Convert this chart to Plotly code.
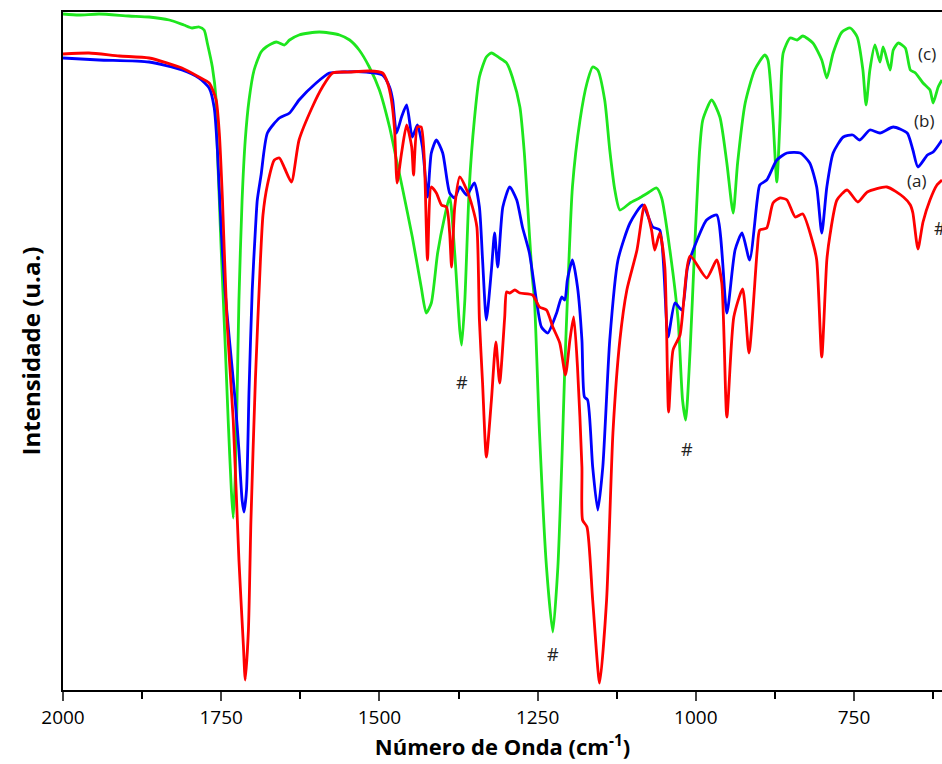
import plotly.graph_objects as go

# espectros FTIR (numero de onda em cm-1, intensidade em u.a.)
wn_a = [2000, 1959, 1911, 1864, 1812, 1785, 1769, 1758, 1753, 1748, 1741, 1731, 1722, 1715, 1712,
        1707, 1703, 1696, 1688, 1684, 1677, 1666, 1658, 1650, 1639, 1627, 1606, 1590, 1574, 1547,
        1516, 1495, 1487, 1481, 1476, 1472, 1465, 1457, 1449, 1446, 1440, 1434, 1429, 1424, 1418,
        1410, 1402, 1394, 1389, 1386, 1381, 1373, 1362, 1353, 1346, 1342, 1337, 1331, 1323, 1316,
        1310, 1302, 1299, 1294, 1286, 1278, 1258, 1247, 1236, 1226, 1215, 1206, 1199, 1193, 1187,
        1180, 1179, 1172, 1163, 1152, 1141, 1131, 1120, 1109, 1093, 1081, 1070, 1065, 1057, 1049,
        1043, 1036, 1025, 1009, 983, 967, 959, 951, 940, 926, 916, 903, 899, 888, 878,
        867, 856, 843, 831, 815, 809, 801, 793, 788, 777, 761, 744, 729, 698, 672,
        661, 657, 649, 641, 630, 619, 611]
int_a = [636, 637, 634, 632, 622, 613, 607, 590, 557, 490, 370, 270, 130, 45, 10,
         60, 170, 310, 430, 475, 505, 530, 532, 522, 508, 550, 583, 603, 617, 618,
         619, 617, 607, 590, 560, 507, 537, 565, 543, 515, 563, 563, 530, 430, 503,
         497, 485, 483, 457, 423, 483, 513, 500, 483, 463, 370, 307, 233, 290, 348,
         307, 373, 398, 397, 400, 397, 395, 383, 380, 363, 347, 315, 350, 373, 323,
         223, 170, 163, 90, 7, 90, 257, 350, 400, 440, 485, 460, 440, 457, 423,
         278, 340, 355, 434, 412, 430, 407, 273, 373, 401, 337, 440, 460, 462, 487,
         492, 490, 473, 476, 447, 430, 333, 430, 455, 490, 500, 488, 498, 503, 493,
         485, 477, 441, 468, 490, 505, 510]

wn_b = [2000, 1943, 1864, 1812, 1785, 1769, 1761, 1756, 1750, 1744, 1737, 1728, 1722, 1717, 1714,
        1710, 1706, 1701, 1696, 1693, 1687, 1677, 1658, 1642, 1627, 1600, 1579, 1559, 1521, 1495,
        1484, 1479, 1473, 1465, 1457, 1448, 1440, 1432, 1424, 1418, 1410, 1400, 1389, 1381, 1373,
        1362, 1350, 1342, 1337, 1331, 1323, 1318, 1313, 1305, 1294, 1283, 1274, 1263, 1252, 1244,
        1234, 1220, 1212, 1207, 1203, 1195, 1187, 1180, 1176, 1171, 1163, 1155, 1147, 1136, 1123,
        1104, 1084, 1068, 1057, 1044, 1033, 1022, 1013, 998, 983, 967, 951, 938, 927, 915,
        903, 899, 888, 872, 856, 835, 820, 809, 801, 793, 783, 767, 752, 741, 725,
        709, 688, 666, 657, 649, 634, 625, 611]
int_b = [632, 630, 628, 620, 612, 602, 582, 540, 460, 400, 350, 290, 240, 190, 178,
         200, 300, 400, 460, 490, 515, 557, 572, 577, 590, 607, 617, 618, 618, 615,
         603, 590, 557, 573, 585, 553, 565, 543, 493, 537, 550, 537, 497, 492, 503,
         495, 507, 483, 430, 370, 420, 457, 423, 483, 503, 490, 463, 437, 390, 363,
         357, 377, 393, 390, 410, 430, 403, 350, 293, 290, 223, 180, 223, 350, 430,
         467, 485, 463, 460, 353, 387, 380, 423, 450, 470, 475, 377, 440, 457, 430,
         490, 505, 510, 530, 537, 537, 527, 503, 457, 503, 537, 553, 555, 550, 560,
         557, 563, 557, 540, 523, 535, 538, 550]

wn_c = [2000, 1975, 1943, 1896, 1864, 1832, 1809, 1796, 1785, 1777, 1772, 1764, 1758, 1756, 1753,
        1750, 1744, 1739, 1734, 1731, 1728, 1725, 1722, 1717, 1712, 1706, 1698, 1687, 1679, 1663,
        1650, 1642, 1627, 1611, 1595, 1579, 1563, 1547, 1532, 1516, 1500, 1484, 1473, 1464, 1448,
        1434, 1426, 1418, 1408, 1397, 1389, 1381, 1373, 1370, 1365, 1358, 1350, 1342, 1331, 1323,
        1310, 1299, 1290, 1278, 1271, 1266, 1259, 1255, 1247, 1236, 1226, 1218, 1212, 1207, 1203,
        1195, 1183, 1172, 1163, 1155, 1144, 1136, 1128, 1120, 1104, 1089, 1076, 1062, 1054, 1041,
        1028, 1021, 1016, 1009, 1002, 994, 989, 975, 962, 951, 941, 934, 922, 907, 891,
        886, 878, 872, 867, 862, 851, 840, 831, 815, 801, 793, 783, 769, 756, 745,
        736, 731, 725, 717, 709, 704, 693, 688, 680, 669, 661, 653, 641, 630, 625,
        617, 611]
int_c = [676, 675, 676, 674, 673, 670, 665, 662, 663, 660, 647, 623, 590, 540, 490,
         440, 350, 270, 200, 172, 210, 290, 390, 490, 550, 590, 620, 638, 643, 648,
         645, 650, 655, 657, 658, 657, 655, 650, 640, 623, 600, 563, 530, 503, 453,
         403, 377, 387, 437, 473, 493, 437, 360, 345, 390, 503, 570, 613, 633, 637,
         632, 627, 613, 583, 537, 487, 417, 390, 257, 123, 58, 123, 223, 323, 390,
         503, 570, 607, 623, 620, 590, 540, 500, 480, 487, 492, 497, 502, 492, 440,
         370, 290, 270, 340, 440, 540, 570, 590, 573, 527, 477, 527, 587, 620, 635,
         630, 570, 508, 570, 637, 652, 650, 654, 647, 630, 612, 637, 658, 662, 653,
         620, 585, 620, 645, 628, 643, 620, 640, 647, 642, 620, 617, 607, 600, 587,
         603, 610]

labels = ["(a)", "(b)", "(c)"]
label_x = [651, 639, 634]
label_y = [510, 570, 637]
hash_x = [1370, 1226, 1014, 614]
hash_y = [308, 36, 241, 462]

fig = go.Figure()
for wn, it, cor in [(wn_c, int_c, "#1ee61e"), (wn_b, int_b, "#0000ff"), (wn_a, int_a, "#ff0000")]:
    fig.add_trace(go.Scatter(x=wn, y=it, mode="lines",
                             line=dict(color=cor, width=2.8, shape="spline", smoothing=0.6),
                             showlegend=False, hoverinfo="skip"))

for t, x, y in zip(labels, label_x, label_y):
    fig.add_annotation(x=x, y=y, text=t, showarrow=False, xanchor="center",
                       font=dict(family="Open Sans", size=17, color="#222"))
for x, y in zip(hash_x, hash_y):
    fig.add_annotation(x=x, y=y, text="#", showarrow=False, xanchor="center",
                       font=dict(family="Open Sans", size=18, color="#222"))

fig.update_layout(
    width=942, height=764,
    margin=dict(l=63, r=0, t=12, b=74),
    paper_bgcolor="white", plot_bgcolor="white",
    font=dict(family="Open Sans", color="black"),
    xaxis=dict(range=[2000, 611], tick0=0, dtick=250, ticks="outside", ticklen=9, tickwidth=2,
               showline=True, linecolor="black", linewidth=2, mirror=True,
               showgrid=False, zeroline=False, tickfont=dict(size=19),
               minor=dict(dtick=125, ticks="outside", ticklen=7, tickwidth=2, tickcolor="black"),
               title=dict(text="<b>Número de Onda (cm<sup>-1</sup>)</b>", font=dict(size=22), standoff=2)),
    yaxis=dict(range=[0, 678], showticklabels=False, ticks="", showline=True, linecolor="black",
               linewidth=2, showgrid=False, zeroline=False,
               title=dict(text="<b>Intensidade (u.a.)</b>", font=dict(size=24), standoff=14)),
)

fig.write_html("out.html", config={"displayModeBar": False},
               post_script="document.body.style.margin='0';document.body.style.overflow='hidden';")
